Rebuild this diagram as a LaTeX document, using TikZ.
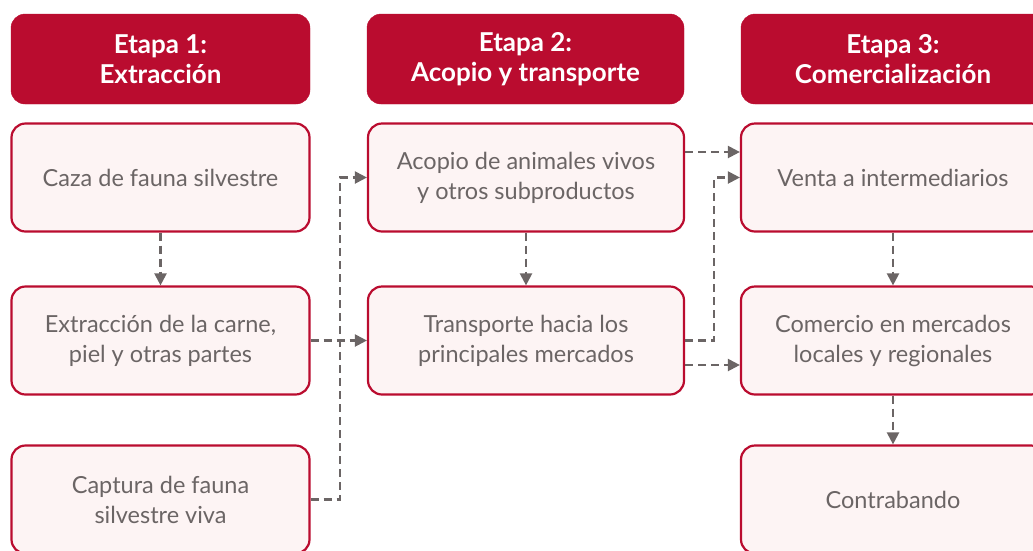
\documentclass[tikz,border=0pt]{standalone}
\usepackage{fontspec}
\setmainfont{Lato}
\usepackage{tikz}
\usetikzlibrary{arrows.meta,positioning}
\definecolor{rojo}{HTML}{BA0C2F}
\definecolor{rosa}{HTML}{FDF4F4}
\definecolor{gris}{HTML}{6B6565}

\begin{document}
\begin{tikzpicture}[x=1pt,y=-1pt]
                    \tikzstyle{etapa}=[draw=rojo, fill=rojo, rounded corners=14pt, text=white,
                        font=\fontsize{26}{30}\selectfont\bfseries, align=center,
                        minimum height=90pt, inner sep=0pt]
                    \tikzstyle{paso}=[draw=rojo, line width=2.2pt, fill=rosa, rounded corners=14pt,
                        text=gris, font=\fontsize{23.5}{30}\selectfont, align=center,
                        minimum height=108pt, inner sep=0pt]
                    \tikzstyle{flecha}=[draw=gris, line width=2.2pt, dash pattern=on 8pt off 5pt,
                        -{Triangle[length=12pt,width=12pt]}]
                    \useasboundingbox (0,0) rectangle (1033,550);
                    \clip (0,0) rectangle (1033,550);
                    % etapas
                    \node [etapa, minimum width=299pt] (e1) at (160.5,59) {Etapa 1:\\Extracción};
                    \node [etapa, minimum width=317pt] (e2) at (525.5,59) {Etapa 2:\\Acopio y transporte};
                    \node [etapa, minimum width=304pt] (e3) at (893,59) {Etapa 3:\\Comercialización};
                    % etapa 1
                    \node [paso, minimum width=298pt] (caza) at (160.5,177.5) {Caza de fauna silvestre};
                    \node [paso, minimum width=298pt] (extrac) at (160.5,340.5) {Extracción de la carne,\\piel y otras partes};
                    \node [paso, minimum width=298pt] (captura) at (160.5,499.5) {Captura de fauna\\silvestre viva};
                    % etapa 2
                    \node [paso, minimum width=316pt] (acopio) at (526,177.5) {Acopio de animales vivos\\y otros subproductos};
                    \node [paso, minimum width=316pt] (transp) at (526,340.5) {Transporte hacia los\\principales mercados};
                    % etapa 3
                    \node [paso, minimum width=304pt] (venta) at (893,177.5) {Venta a intermediarios};
                    \node [paso, minimum width=304pt] (comercio) at (893,340.5) {Comercio en mercados\\locales y regionales};
                    \node [paso, minimum width=304pt] (contra) at (893,499.5) {Contrabando};
                    % flechas
                    \draw [flecha] (caza) -- (extrac);
                    \draw [flecha] (extrac) -- (transp);
                    \draw [flecha] (captura.east) -- ++(29,0) |- (acopio.west);
                    \draw [flecha] (acopio) -- (transp);
                    \draw [flecha] ([yshift=25.5pt]acopio.east) -- ([yshift=25.5pt]venta.west);
                    \draw [flecha] (transp.east) -- ++(29,0) |- (venta.west);
                    \draw [flecha] ([yshift=-24.5pt]transp.east) -- ([yshift=-24.5pt]comercio.west);
                    \draw [flecha] (venta) -- (comercio);
                    \draw [flecha] (comercio) -- (contra);
\end{tikzpicture}
\end{document}
